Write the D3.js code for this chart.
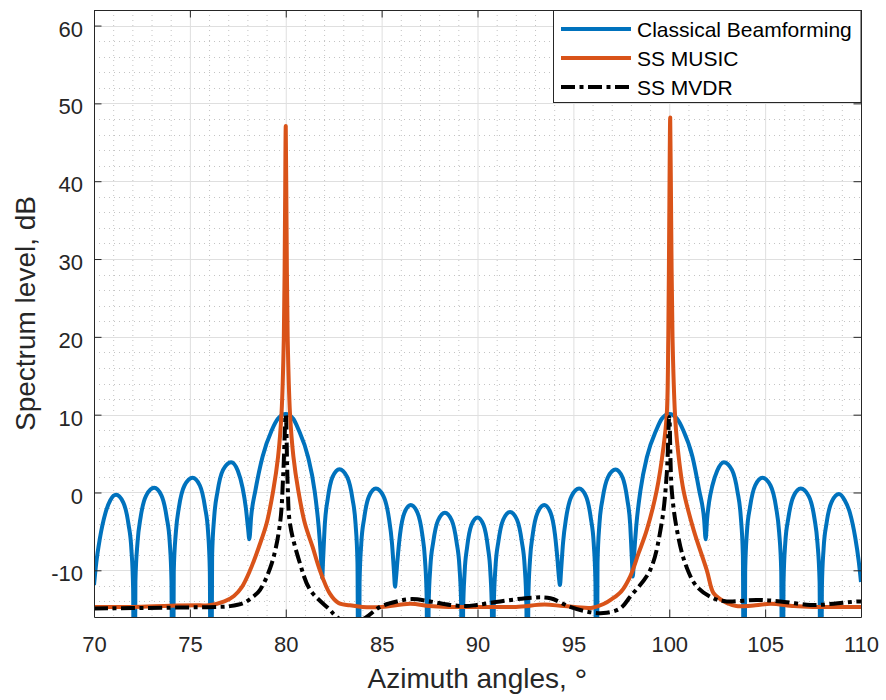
<!DOCTYPE html>
<html>
<head>
<meta charset="utf-8">
<script src="https://cdn.jsdelivr.net/npm/d3@7"></script>
<style>
    body { margin: 0; background: #fff; }
    svg text { font-family: "Liberation Sans", Arial, Helvetica, sans-serif; }
</style>
</head>
<body>
<div id="chart"></div>
<script>

// * * * values  (angle in deg, level in dB) * * *

// -40 marks the deep nulls that fall below the axis
const beamforming = [
    [70.00, -11.9], [70.12, -9.0], [70.30, -6.0], [70.60, -2.6], [70.85, -1.0], [71.15, -0.3],
    [71.53, -1.3], [71.80, -4.1], [71.95, -7.3], [72.04, -12.3], [72.10, -40],
    [72.16, -11.4], [72.27, -6.4], [72.43, -3.2], [72.72, -0.4], [73.14, 0.6],
    [73.52, -0.4], [73.79, -3.2], [73.95, -6.4], [74.04, -11.4], [74.10, -40],
    [74.16, -10.1], [74.27, -5.1], [74.43, -1.9], [74.72, 0.9], [75.14, 1.9],
    [75.52, 0.9], [75.79, -1.9], [75.95, -5.1], [76.04, -10.1], [76.10, -40],
    [76.16, -8.1], [76.27, -3.1], [76.44, 0.1], [76.73, 2.9], [77.15, 3.9],
    [77.50, 2.8], [77.75, 0.6], [77.92, -2.0], [78.03, -4.5], [78.10, -6.0],
    [78.20, -3.0], [78.42, 0.3], [78.79, 4.6], [79.27, 8.0], [79.60, 9.5], [80.00, 10.1],
    [80.38, 9.5], [80.68, 8.0], [81.16, 4.6], [81.50, 0.3], [81.72, -4.5], [81.84, -8.5], [81.90, -11.0],
    [81.95, -8.5], [82.04, -4.0], [82.19, -0.8], [82.44, 2.0], [82.80, 3.0],
    [83.20, 2.0], [83.48, -0.8], [83.64, -4.0], [83.74, -9.0], [83.80, -40],
    [83.85, -11.5], [83.94, -6.5], [84.09, -3.3], [84.34, -0.5], [84.70, 0.5],
    [85.10, -0.5], [85.38, -3.3], [85.54, -6.5], [85.64, -10.0], [85.70, -12.1],
    [85.75, -11.0], [85.83, -8.6], [85.96, -5.4], [86.19, -2.6], [86.52, -1.6],
    [86.87, -2.6], [87.12, -5.4], [87.26, -8.6], [87.35, -13.6], [87.40, -40],
    [87.45, -14.6], [87.54, -9.6], [87.69, -6.4], [87.94, -3.6], [88.30, -2.6],
    [88.66, -3.6], [88.91, -6.4], [89.06, -9.6], [89.15, -14.6], [89.20, -40],
    [89.25, -15.2], [89.33, -10.2], [89.46, -7.0], [89.68, -4.2], [90.00, -3.2],
    [90.32, -4.2], [90.54, -7.0], [90.67, -10.2], [90.75, -15.2], [90.80, -40],
    [90.85, -14.5], [90.94, -9.5], [91.09, -6.3], [91.34, -3.5], [91.70, -2.5],
    [92.06, -3.5], [92.31, -6.3], [92.46, -9.5], [92.55, -14.5], [92.60, -40],
    [92.65, -13.6], [92.74, -8.6], [92.88, -5.4], [93.13, -2.6], [93.48, -1.6],
    [93.81, -2.6], [94.04, -5.4], [94.17, -8.6], [94.25, -11.0], [94.30, -11.9],
    [94.36, -10.0], [94.46, -6.5], [94.62, -3.3], [94.90, -0.5], [95.30, 0.5],
    [95.66, -0.5], [95.91, -3.3], [96.06, -6.5], [96.15, -11.5], [96.20, -40],
    [96.26, -9.0], [96.36, -4.0], [96.52, -0.85], [96.80, 1.95], [97.20, 2.95],
    [97.56, 1.95], [97.81, -0.85], [97.96, -4.0], [98.05, -8.5], [98.10, -10.8],
    [98.16, -8.3], [98.28, -4.3], [98.50, 0.3], [98.84, 4.6], [99.32, 8.0], [99.62, 9.5], [100.00, 10.1],
    [100.40, 9.5], [100.73, 8.0], [101.21, 4.6], [101.56, 0.3], [101.82, -3.5], [101.90, -6.0],
    [101.97, -3.5], [102.08, -1.2], [102.25, 0.9], [102.50, 2.8], [102.85, 3.9],
    [103.27, 2.9], [103.56, 0.1], [103.73, -3.1], [103.84, -8.1], [103.90, -40],
    [103.96, -10.1], [104.05, -5.1], [104.21, -1.9], [104.48, 0.9], [104.86, 1.9],
    [105.28, 0.9], [105.57, -1.9], [105.73, -5.1], [105.84, -10.1], [105.90, -40],
    [105.96, -11.5], [106.05, -6.5], [106.21, -3.3], [106.48, -0.5], [106.86, 0.5],
    [107.28, -0.5], [107.57, -3.3], [107.73, -6.5], [107.84, -11.5], [107.90, -40],
    [107.96, -12.2], [108.05, -7.2], [108.20, -4.0], [108.47, -1.2], [108.85, -0.2],
    [109.15, -1.0], [109.42, -2.6], [109.70, -5.8], [109.88, -8.8], [110.00, -11.5]
];

const ssMusic = [
    [70.0, -14.7], [72.0, -14.7], [74.0, -14.55], [75.5, -14.5], [76.0, -14.5], [76.8, -14.0],
    [77.3, -13.3], [77.7, -12.2], [78.14, -10.0], [78.6, -7.0], [79.0, -4.0], [79.35, 0.3],
    [79.6, 4.6], [79.78, 10.2], [79.9, 20.0], [79.96, 35.0], [80.0, 47.1], [80.04, 35.0],
    [80.1, 20.0], [80.22, 10.2], [80.4, 4.6], [80.65, 0.3], [81.0, -4.0], [81.4, -7.0],
    [81.78, -10.0], [82.3, -13.0], [82.75, -14.2], [83.35, -14.5], [84.0, -14.7], [85.0, -14.7],
    [86.5, -14.3], [87.5, -14.6], [88.5, -14.7], [90.0, -14.7], [92.0, -14.7], [93.5, -14.4],
    [94.5, -14.6], [96.0, -14.8], [96.6, -14.3], [97.0, -13.7], [97.5, -12.7], [97.96, -10.8],
    [98.4, -7.8], [98.83, -4.8], [99.35, 0.3], [99.7, 5.85], [99.87, 10.0], [99.95, 20.0],
    [100.0, 35.0], [100.05, 48.2], [100.1, 35.0], [100.17, 20.0], [100.3, 10.0], [100.4, 6.7],
    [100.74, 0.3], [101.27, -4.8], [101.96, -10.0], [102.3, -12.9], [102.66, -13.7], [103.0, -14.2],
    [103.5, -14.6], [104.5, -14.5], [105.3, -14.3], [106.5, -14.6], [107.5, -14.7], [109.0, -14.7],
    [110.0, -14.7]
];

const ssMvdr = [
    [70.0, -14.9], [72.0, -14.85], [74.0, -14.8], [75.5, -14.75], [76.5, -14.7], [77.1, -14.6],
    [77.8, -14.2], [78.3, -13.4], [78.66, -12.5], [79.27, -9.1], [79.7, -4.0], [79.87, 2.4],
    [80.0, 10.0], [80.1, 1.0], [80.22, -4.0], [80.74, -9.1], [81.27, -12.5], [82.31, -15.1],
    [82.66, -16.0], [83.3, -16.8], [83.8, -16.6], [84.22, -16.0], [84.92, -14.7], [85.79, -14.0],
    [86.57, -13.7], [87.53, -14.0], [88.57, -14.45], [89.4, -14.6], [89.96, -14.45], [91.18, -14.0],
    [92.92, -13.5], [93.8, -13.6], [94.83, -14.7], [95.7, -15.3], [96.57, -15.5], [97.44, -14.9],
    [97.96, -13.4], [99.0, -10.0], [99.6, -4.0], [99.87, 2.4], [100.0, 9.7], [100.13, 0.3],
    [100.4, -4.8], [100.83, -9.1], [101.44, -12.1], [102.3, -13.6], [103.0, -14.0], [104.57, -13.8],
    [105.79, -14.0], [107.35, -14.45], [108.57, -14.3], [109.78, -14.0], [110.0, -14.0]
];

const seriesNames = ["Classical Beamforming", "SS MUSIC", "SS MVDR"];
const xTicks = [70, 75, 80, 85, 90, 95, 100, 105, 110];
const yTicks = [-10, 0, 10, 20, 30, 40, 50, 60];


// * * * drawing * * *

let margin = {top: 10, right: 25, bottom: 83, left: 94};
let width = 886 - margin.left - margin.right,
    height = 700 - margin.top - margin.bottom;

let svg = d3.select("#chart").append("svg")
    .attr("width", 886)
    .attr("height", 700)
    .append("g")
    .attr("transform", `translate(${margin.left}, ${margin.top})`);

let x = d3.scaleLinear().domain([70, 110]).range([0, width]);
let y = d3.scaleLinear().domain([-16, 62]).range([height, 0]);

// minor grid (dotted)
let xMinor = d3.range(71, 110, 1).filter(d => d % 5 !== 0);
let yMinor = d3.range(-14, 62, 2).filter(d => d % 10 !== 0);

svg.append("g").selectAll("line")
    .data(xMinor)
    .enter().append("line")
    .attr("x1", d => x(d) + 0.5).attr("x2", d => x(d) + 0.5)
    .attr("y1", 0).attr("y2", height)
    .attr("stroke", "#c4c4c4")
    .attr("stroke-dasharray", "1,4");

svg.append("g").selectAll("line")
    .data(yMinor)
    .enter().append("line")
    .attr("y1", d => Math.round(y(d)) + 0.5).attr("y2", d => Math.round(y(d)) + 0.5)
    .attr("x1", 0).attr("x2", width)
    .attr("stroke", "#c4c4c4")
    .attr("stroke-dasharray", "1,4");

// major grid
svg.append("g").selectAll("line")
    .data(xTicks.slice(1, -1))
    .enter().append("line")
    .attr("x1", d => x(d) + 0.5).attr("x2", d => x(d) + 0.5)
    .attr("y1", 0).attr("y2", height)
    .attr("stroke", "#dfdfdf");

svg.append("g").selectAll("line")
    .data(yTicks)
    .enter().append("line")
    .attr("y1", d => Math.round(y(d)) + 0.5).attr("y2", d => Math.round(y(d)) + 0.5)
    .attr("x1", 0).attr("x2", width)
    .attr("stroke", "#dfdfdf");

// clip the curves to the axes box
svg.append("defs").append("clipPath")
    .attr("id", "plot-clip")
    .append("rect")
    .attr("width", width)
    .attr("height", height);

let beamLine = d3.line()
    .x(d => x(d[0]))
    .y(d => y(d[1]))
    .curve(d3.curveMonotoneX);

let smoothLine = d3.line()
    .x(d => x(d[0]))
    .y(d => y(d[1]))
    .curve(d3.curveCatmullRom.alpha(0.5));

let styles = [
    {data: beamforming, color: "#0072BD", dash: null, line: beamLine},
    {data: ssMusic, color: "#D95319", dash: null, line: smoothLine},
    {data: ssMvdr, color: "#000000", dash: "14,4.5,4,4.5", line: smoothLine}
];

let curves = svg.append("g").attr("clip-path", "url(#plot-clip)");

styles.forEach(s => {
    curves.append("path")
        .datum(s.data)
        .attr("d", s.line)
        .attr("fill", "none")
        .attr("stroke", s.color)
        .attr("stroke-width", 4)
        .attr("stroke-linejoin", "round")
        .attr("stroke-dasharray", s.dash);
});

// axes, ticks pointing inward on all four sides
let tickLen = 7.5;

let xAxis = svg.append("g")
    .attr("transform", `translate(0, ${height})`)
    .call(d3.axisBottom(x).tickValues(xTicks).tickFormat(d => d).tickSize(-tickLen).tickSizeOuter(0).tickPadding(19));

let yAxis = svg.append("g")
    .call(d3.axisLeft(y).tickValues(yTicks).tickFormat(d => d).tickSize(-tickLen).tickSizeOuter(0).tickPadding(11));

svg.append("g")
    .call(d3.axisTop(x).tickValues(xTicks).tickSize(-tickLen).tickSizeOuter(0).tickFormat(""));

svg.append("g")
    .attr("transform", `translate(${width}, 0)`)
    .call(d3.axisRight(y).tickValues(yTicks).tickSize(-tickLen).tickSizeOuter(0).tickFormat(""));

svg.selectAll(".domain, .tick line").attr("stroke", "#262626");

svg.selectAll(".tick text")
    .attr("font-size", "22px")
    .attr("font-family", null)
    .attr("fill", "#262626");

yAxis.selectAll(".tick text").attr("dy", "0.48em");

// axis titles
svg.append("text")
    .attr("x", width / 2)
    .attr("y", 678)
    .attr("text-anchor", "middle")
    .attr("font-size", "28px")
    .style("fill", "#262626")
    .text("Azimuth angles, ")
    .append("tspan")
    .attr("font-size", "32px")
    .attr("dy", "3")
    .text("°");

svg.append("text")
    .attr("transform", `translate(${35 - margin.left}, ${height / 2}) rotate(-90)`)
    .attr("text-anchor", "middle")
    .attr("font-size", "28px")
    .style("fill", "#262626")
    .text("Spectrum level, dB");

// legend
let legend = svg.append("g")
    .attr("transform", `translate(${553 - margin.left}, 0)`);

legend.append("rect")
    .attr("x", 0.5)
    .attr("y", 0.5)
    .attr("width", width - (553 - margin.left) - 0.5)
    .attr("height", 92)
    .attr("fill", "#fff")
    .attr("stroke", "#262626");

styles.forEach((s, i) => {
    let rowY = 19 + i * 29;

    legend.append("line")
        .attr("x1", 8).attr("x2", 78)
        .attr("y1", rowY).attr("y2", rowY)
        .attr("stroke", s.color)
        .attr("stroke-width", 4)
        .attr("stroke-dasharray", s.dash);

    legend.append("text")
        .attr("x", 84)
        .attr("y", rowY + 7.5)
        .attr("font-size", "21px")
        .style("fill", "#000")
        .text(seriesNames[i]);
});

</script>
</body>
</html>
